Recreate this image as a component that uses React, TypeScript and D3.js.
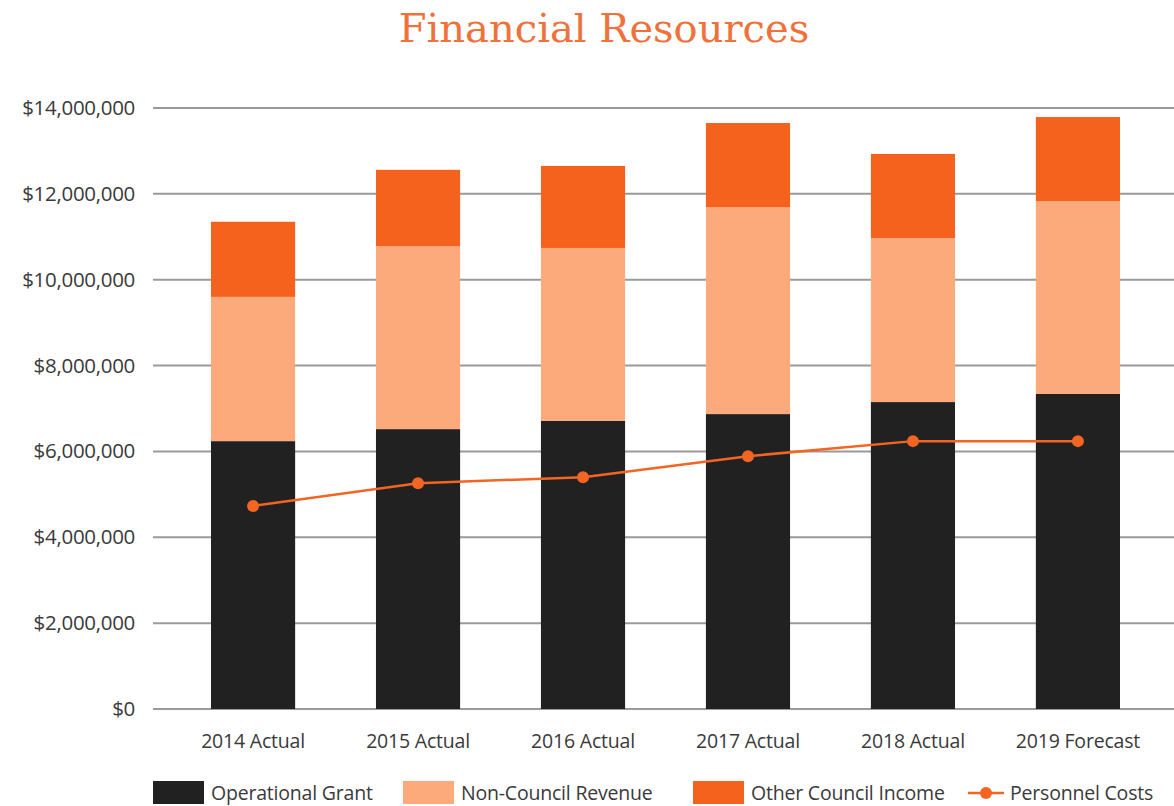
import { useMemo } from 'react';
import * as d3 from 'd3';

const years = ['2014 Actual', '2015 Actual', '2016 Actual', '2017 Actual', '2018 Actual', '2019 Forecast'];
const operationalGrant = [6.24, 6.52, 6.71, 6.87, 7.15, 7.34].map((v) => v * 1e6);
const nonCouncilRevenue = [3.36, 4.26, 4.03, 4.82, 3.82, 4.49].map((v) => v * 1e6);
const otherCouncilIncome = [1.75, 1.78, 1.91, 1.96, 1.96, 1.96].map((v) => v * 1e6);
const personnelCosts = [4.73, 5.26, 5.4, 5.89, 6.24, 6.24].map((v) => v * 1e6);
const yTicks = [0, 2e6, 4e6, 6e6, 8e6, 10e6, 12e6, 14e6];

const seriesKeys = ['Operational Grant', 'Non-Council Revenue', 'Other Council Income'];
const colors = ['#212121', '#FCA97C', '#F5621E'];
const lineColor = '#F26522';

const W = 1174;
const H = 806;
const font = '"Open Sans", sans-serif';
const textColor = '#3a3a3a';

export default function App() {
  const x = useMemo(
    () => d3.scaleBand().domain(years).range([211, 1120]).paddingInner(0.49).paddingOuter(0),
    []
  );
  const y = useMemo(() => d3.scaleLinear().domain([0, 14e6]).range([709, 108]), []);

  const rows = years.map((yr, i) => ({
    year: yr,
    'Operational Grant': operationalGrant[i],
    'Non-Council Revenue': nonCouncilRevenue[i],
    'Other Council Income': otherCouncilIncome[i],
  }));
  const stacked = d3.stack().keys(seriesKeys)(rows as any);

  const cx = (i: number) => x(years[i])! + x.bandwidth() / 2;
  const line = d3
    .line<number>()
    .x((_, i) => cx(i))
    .y((d) => y(d));

  const fmt = (v: number) => '$' + d3.format(',')(v);

  const legend = [
    { label: 'Operational Grant', x: 153, kind: 'rect', color: colors[0] },
    { label: 'Non-Council Revenue', x: 403, kind: 'rect', color: colors[1] },
    { label: 'Other Council Income', x: 693, kind: 'rect', color: colors[2] },
    { label: 'Personnel Costs', x: 968, kind: 'line', color: lineColor },
  ];

  return (
    <svg width={W} height={H} style={{ position: 'absolute', left: 0, top: 0, background: '#fff' }}>
      <text x={604} y={42} textAnchor="middle" fill="#F0713A" fontFamily='"DejaVu Serif", serif' fontSize={40}>
        Financial Resources
      </text>

      {yTicks.map((t) => (
        <g key={t}>
          <line x1={153} x2={W} y1={y(t)} y2={y(t)} stroke="#9a9a9a" strokeWidth={2} />
          <text x={135} y={y(t) + 7} textAnchor="end" fill={textColor} fontFamily={font} fontSize={20.5} letterSpacing={-0.3}>
            {fmt(t)}
          </text>
        </g>
      ))}

      {stacked.map((s, si) => (
        <g key={s.key} fill={colors[si]}>
          {s.map((d, i) => (
            <rect key={i} x={x(years[i])} width={x.bandwidth()} y={y(d[1])} height={y(d[0]) - y(d[1])} />
          ))}
        </g>
      ))}

      <path d={line(personnelCosts)!} fill="none" stroke={lineColor} strokeWidth={2.5} />
      {personnelCosts.map((v, i) => (
        <circle key={i} cx={cx(i)} cy={y(v)} r={6} fill={lineColor} />
      ))}

      {years.map((yr) => (
        <text key={yr} x={x(yr)! + x.bandwidth() / 2} y={748} textAnchor="middle" fill={textColor} fontFamily={font} fontSize={19.5} letterSpacing={-0.2}>
          {yr}
        </text>
      ))}

      {legend.map((l) => (
        <g key={l.label}>
          {l.kind === 'rect' ? (
            <rect x={l.x} y={781} width={51} height={23} fill={l.color} />
          ) : (
            <g>
              <line x1={l.x} x2={l.x + 36} y1={793} y2={793} stroke={l.color} strokeWidth={2.5} />
              <circle cx={l.x + 18} cy={793} r={6} fill={l.color} />
            </g>
          )}
          <text x={l.kind === 'rect' ? l.x + 58 : l.x + 42} y={800} fill={textColor} fontFamily={font} fontSize={19.5} letterSpacing={-0.2}>
            {l.label}
          </text>
        </g>
      ))}
    </svg>
  );
}
